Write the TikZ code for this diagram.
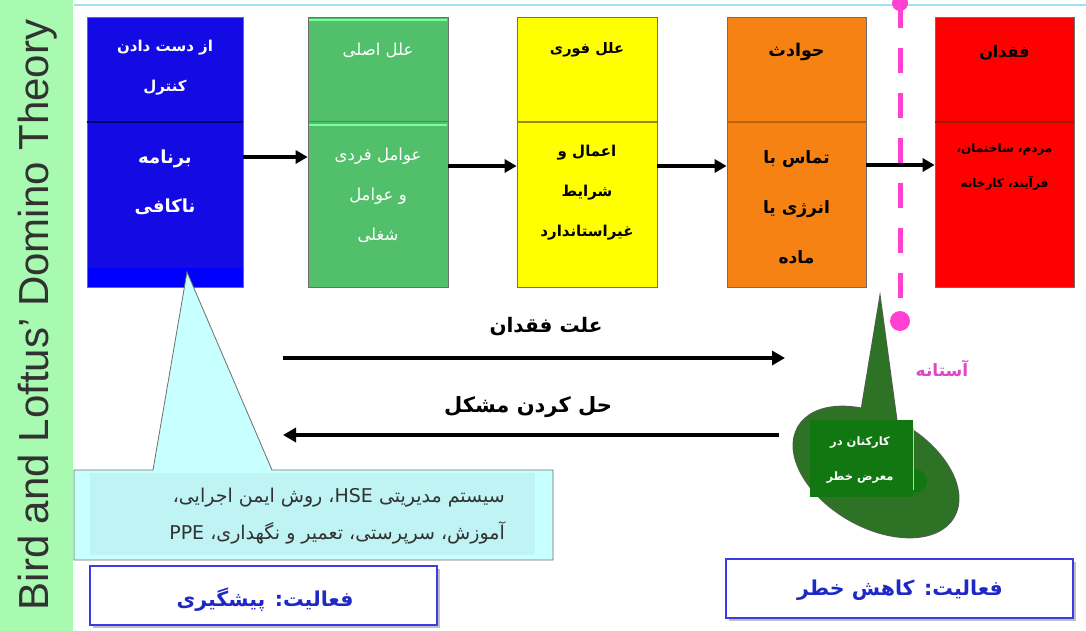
\documentclass[tikz,border=0pt]{standalone}
\usepackage{fontspec}
\setmainfont{Liberation Sans}
\newfontfamily\fa[Script=Arabic]{DejaVu Sans}
\TeXXeTstate=1
\usetikzlibrary{arrows.meta}
\newcommand\fat[1]{\beginR #1\endR}
\definecolor{strip}{RGB}{168,250,176}
\definecolor{topline}{RGB}{160,224,240}
\definecolor{dblue}{RGB}{20,10,228}
\definecolor{dblue2}{RGB}{0,0,255}
\definecolor{navy}{RGB}{0,0,110}
\definecolor{dgreen}{RGB}{82,191,107}
\definecolor{lgreen}{RGB}{120,255,160}
\definecolor{divgreen}{RGB}{60,150,90}
\definecolor{dyellow}{RGB}{255,255,0}
\definecolor{divyellow}{RGB}{150,140,0}
\definecolor{dorange}{RGB}{245,130,18}
\definecolor{divorange}{RGB}{190,95,10}
\definecolor{dred}{RGB}{255,0,0}
\definecolor{divred}{RGB}{170,20,0}
\definecolor{edge}{RGB}{110,110,110}
\definecolor{pinkl}{RGB}{255,64,208}
\definecolor{pinkt}{RGB}{225,70,200}
\definecolor{cyanfill}{RGB}{200,255,255}
\definecolor{cyanin}{RGB}{192,244,244}
\definecolor{cgreen}{RGB}{46,115,37}
\definecolor{cgreenin}{RGB}{17,119,17}
\definecolor{actblue}{RGB}{60,60,230}
\definecolor{acttext}{RGB}{30,40,200}
\definecolor{txtgray}{RGB}{50,50,50}
\begin{document}
\begin{tikzpicture}[x=1pt,y=-1pt,
  dom/.style={draw=edge,line width=0.7pt,minimum width=#1,minimum height=270pt,inner sep=0pt},
  arr/.style={line width=4pt,-{Triangle[length=12pt,width=13pt]}},
  bigarr/.style={line width=4.2pt,-{Triangle[length=13pt,width=14pt]}},
  lbl/.style={align=center,inner sep=0pt},
  act/.style={draw=actblue,line width=1.2pt,fill=white,minimum width=347pt,minimum height=59pt,inner sep=0pt},
  acttxt/.style={lbl,font=\fa\bfseries\fontsize{20.5}{24}\selectfont,text=acttext},
  pinkdash/.style={pinkl,line width=5pt,dash pattern=on 25pt off 20pt}]
\useasboundingbox (0,0) rectangle (1086,631);
\fill[white] (0,0) rectangle (1086,631);
\fill[strip] (0,0) rectangle (73,631);
\draw[topline,line width=2.5pt] (74,5) -- (1086,5);
\node[rotate=90,font=\fontsize{42}{48}\selectfont,text=txtgray] (title) at (38,315) {Bird and Loftus’ Domino Theory};

% dominoes
\node[dom=156pt,fill=dblue] (b1) at (165,152) {};
\fill[dblue2] (87.5,268) rectangle (242.5,286.6);
\draw[navy,line width=1.5pt] (b1.west |- 0,122) -- (b1.east |- 0,122);
\node[dom=140pt,fill=dgreen] (b2) at (378,152) {};
\draw[lgreen,line width=1.5pt] (309,20) -- (447,20);
\draw[divgreen,line width=1pt] (b2.west |- 0,122) -- (b2.east |- 0,122);
\draw[lgreen,line width=1.5pt] (309,125) -- (447,125);
\node[dom=140pt,fill=dyellow] (b3) at (587,152) {};
\draw[divyellow,line width=1.2pt] (b3.west |- 0,122) -- (b3.east |- 0,122);
\node[dom=139pt,fill=dorange] (b4) at (796.5,152) {};
\draw[divorange,line width=1.2pt] (b4.west |- 0,122) -- (b4.east |- 0,122);
\node[dom=139pt,fill=dred] (b5) at (1004.5,152) {};
\draw[divred,line width=1.2pt] (b5.west |- 0,122) -- (b5.east |- 0,122);

% domino texts
\node[lbl,font=\fa\bfseries\fontsize{15}{40}\selectfont,text=white] (t1a) at (165,68) {\fat{از دست دادن}\\\fat{کنترل}};
\node[lbl,font=\fa\bfseries\fontsize{18}{49}\selectfont,text=white] (t1b) at (165,182) {\fat{برنامه}\\\fat{ناکافی}};
\node[lbl,font=\fa\fontsize{16.5}{40}\selectfont,text=white] (t2a) at (378,50) {\fat{علل اصلی}};
\node[lbl,font=\fa\fontsize{16.5}{40}\selectfont,text=white] (t2b) at (378,195) {\fat{عوامل فردی}\\\fat{و عوامل}\\\fat{شغلی}};
\node[lbl,font=\fa\bfseries\fontsize{14.5}{40}\selectfont] (t3a) at (587,50) {\fat{علل فوری}};
\node[lbl,font=\fa\bfseries\fontsize{15}{40}\selectfont] (t3b) at (587,193) {\fat{اعمال و}\\\fat{شرایط}\\\fat{غیراستاندارد}};
\node[lbl,font=\fa\bfseries\fontsize{17.5}{40}\selectfont] (t4a) at (796.5,52) {\fat{حوادث}};
\node[lbl,font=\fa\bfseries\fontsize{17}{50}\selectfont] (t4b) at (796.5,207) {\fat{تماس با}\\\fat{انرژی یا}\\\fat{ماده}};
\node[lbl,font=\fa\bfseries\fontsize{16}{40}\selectfont] (t5a) at (1004.5,53) {\fat{فقدان}};
\node[lbl,font=\fa\bfseries\fontsize{12}{35}\selectfont] (t5b) at (1004.5,167) {\fat{مردم، ساختمان،}\\\fat{فرآیند، کارخانه}};

% arrows between dominoes
\draw[arr] (b1.east |- 0,157) -- (b2.west |- 0,157);
\draw[arr] (b2.east |- 0,166) -- (b3.west |- 0,166);
\draw[arr] (b3.east |- 0,166) -- (b4.west |- 0,166);
\draw[arr] (b4.east |- 0,165) -- (b5.west |- 0,165);

% threshold
\coordinate (ptop) at (900,3);
\coordinate (pbot) at (900,321);
\draw[pinkdash] (ptop) -- (pbot);
\fill[pinkl] (ptop) circle (8);
\fill[pinkl] (pbot) circle (10);
\node[lbl,font=\fa\bfseries\fontsize{17}{20}\selectfont,text=pinkt] (thr) at (942,368) {\fat{آستانه}};

% middle arrows
\coordinate (m1a) at (283,358);
\coordinate (m1b) at (785,358);
\coordinate (m2a) at (779,435);
\coordinate (m2b) at (283,435);
\draw[bigarr] (m1a) -- (m1b);
\draw[bigarr] (m2a) -- (m2b);
\node[lbl,font=\fa\bfseries\fontsize{20}{24}\selectfont] (lab1) at (546,327) {\fat{علت فقدان}};
\node[lbl,font=\fa\bfseries\fontsize{21}{24}\selectfont] (lab2) at (528,407) {\fat{حل کردن مشکل}};

% left callout
\draw[edge,line width=0.8pt,fill=cyanfill] (74,470) -- (153,470) -- (187,272) -- (272,470) -- (553,470) -- (553,560) -- (74,560) -- cycle;
\fill[cyanin] (90,473) rectangle (535,555);
\node[lbl,anchor=east,align=right,font=\fa\fontsize{19}{37}\selectfont,text=txtgray] (ctext) at (505,516)
  {\fat{سیستم مدیریتی \beginL HSE\endL{}، روش ایمن اجرایی،}\\\fat{آموزش، سرپرستی، تعمیر و نگهداری، \beginL PPE\endL{}}};

% right callout
\draw[line width=1.6pt,draw=black!65] (880,297) -- (858,430) -- (898,430) -- cycle;
\draw[line width=1.6pt,draw=black!65,rotate around={-30:(876,472)}] (876,472) ellipse [x radius=90, y radius=55];
\fill[cgreen] (880,297) -- (858,430) -- (898,430) -- cycle;
\fill[cgreen,rotate around={-30:(876,472)}] (876,472) ellipse [x radius=90, y radius=55];
\fill[cgreenin] (915,481) circle (12);
\draw[yellow!70!orange,line width=0.6pt] (913,428) -- (913,490);
\fill[cgreenin] (810,420) rectangle (913,497);
\node[lbl,font=\fa\bfseries\fontsize{11.5}{35}\selectfont,text=white] (ctext2) at (860,460) {\fat{کارکنان در}\\\fat{معرض خطر}};

% activity boxes
\fill[black!25] (92.5,568.5) rectangle (439.5,627.5);
\node[act] (p1) at (263.5,595.5) {};
\node[acttxt] (p1t) at (265,600) {\fat{فعالیت: پیشگیری}};
\fill[black!25] (728.5,561.5) rectangle (1075.5,620.5);
\node[act] (p2) at (899.5,588.5) {};
\node[acttxt] (p2t) at (900,590) {\fat{فعالیت: کاهش خطر}};
\end{tikzpicture}
\end{document}
